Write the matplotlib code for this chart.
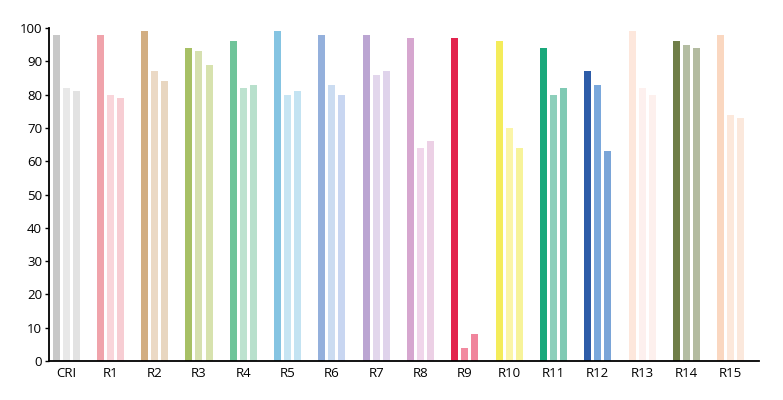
#!/usr/bin/env python3
"""Grouped bar chart: CRI and R1-R15 values for three sources."""

import numpy as np
import matplotlib
matplotlib.use("Agg")
import matplotlib.pyplot as plt

plt.rcParams['font.family'] = ['Open Sans', 'DejaVu Sans']

categories = ["CRI", "R1", "R2", "R3", "R4", "R5", "R6", "R7",
              "R8", "R9", "R10", "R11", "R12", "R13", "R14", "R15"]

series_a = [98, 98, 99, 94, 96, 99, 98, 98, 97, 97, 96, 94, 87, 99, 96, 98]
series_b = [82, 80, 87, 93, 82, 80, 83, 86, 64, 4, 70, 80, 83, 82, 95, 74]
series_c = [81, 79, 84, 89, 83, 81, 80, 87, 66, 8, 64, 82, 63, 80, 94, 73]

# one colour triplet per category (strong, light, light)
colors_a = ["#c8c8c8", "#f0a3ab", "#d2ae82", "#a7c065", "#6fc49a", "#85c4e2",
            "#94b0dc", "#bba5d2", "#d6a6cf", "#e2234d", "#f4ec5a", "#1aa87b",
            "#2d5ca8", "#fde7dc", "#6f7e48", "#fad7c0"]
colors_b = ["#e8e8e8", "#f9d5da", "#ebd9c5", "#d6e0b0", "#bde2cf", "#c7e5f3",
            "#cbdcf1", "#e2d6ec", "#f0d5ea", "#f28aa0", "#fbf5a8", "#8dcfbb",
            "#7aa8dc", "#fdf0ee", "#b4bda2", "#fce8db"]
colors_c = ["#e2e2e2", "#f7cdd3", "#e8d6c0", "#d7e2ae", "#b8e0cc", "#c3e3f2",
            "#c8d6f1", "#dfd3eb", "#ecd0e5", "#f0849c", "#f7f39a", "#80cab4",
            "#7aa5d8", "#fdf0ed", "#b3bba0", "#fbe8dc"]


def main():
    fig = plt.figure(figsize=(7.83, 4.0), dpi=100)
    ax = fig.add_axes([0.0626, 0.0975, 0.9064, 0.8325])

    x = np.arange(len(categories))
    step = 0.226
    width = 0.158
    ax.bar(x - step, series_a, width, color=colors_a)
    ax.bar(x, series_b, width, color=colors_b)
    ax.bar(x + step, series_c, width, color=colors_c)

    ax.set_xlim(-0.384, 15.63)
    ax.set_ylim(0, 100)
    ax.set_yticks(np.arange(0, 101, 10))
    ax.set_xticks(x)
    ax.set_xticklabels(categories)

    for side in ("top", "right"):
        ax.spines[side].set_visible(False)
    for side in ("left", "bottom"):
        ax.spines[side].set_linewidth(1.3)
        ax.spines[side].set_color("black")

    ax.tick_params(axis='y', length=3, width=1, labelsize=9.5, pad=2)
    ax.tick_params(axis='x', length=0, labelsize=9.5, pad=4)

    fig.savefig("out.png", dpi=100)
    plt.close(fig)


if __name__ == "__main__":
    main()
